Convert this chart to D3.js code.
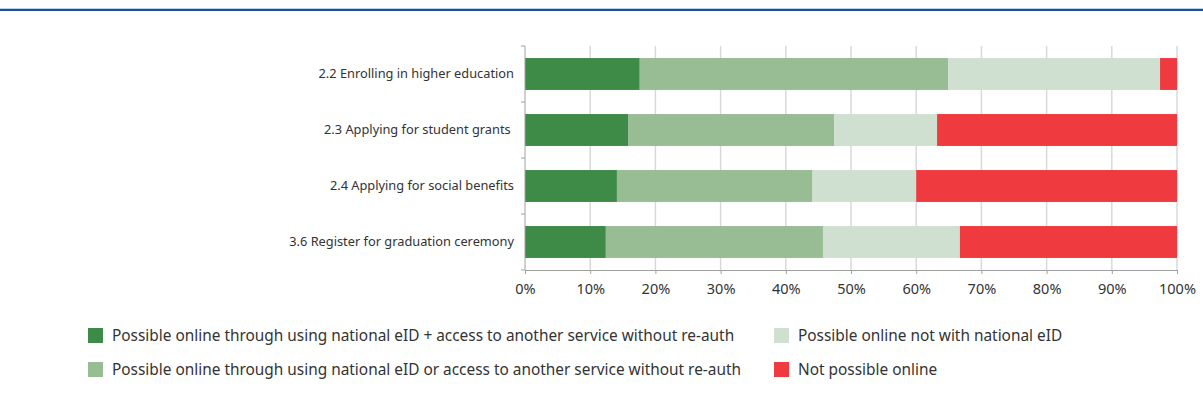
<!DOCTYPE html>
<html><head><meta charset="utf-8">
<script src="https://cdn.jsdelivr.net/npm/d3@7"></script>
<style>
html,body{margin:0;padding:0;background:#fff;}
svg{display:block;font-family:"Noto Sans",sans-serif;}
</style></head>
<body>
<svg id="chart" width="1203" height="407"></svg>
<script>
const categories = ["2.2 Enrolling in higher education","2.3 Applying for student grants ","2.4 Applying for social benefits","3.6 Register for graduation ceremony"];
const seriesNames = ["Possible online through using national eID + access to another service without re-auth","Possible online through using national eID or access to another service without re-auth","Possible online not with national eID","Not possible online"];
const eidPlus   = [17.6, 15.8, 14.1, 12.4];
const eidOr     = [47.3, 31.6, 30.0, 33.3];
const notEid    = [32.5, 15.8, 15.9, 21.0];
const notOnline = [2.6, 36.8, 40.0, 33.3];
const tickValues = [0,10,20,30,40,50,60,70,80,90,100];
const colors = ["#3d8b47","#98bd95","#d0e0d0","#ef3b3f"];

const svg = d3.select("#chart");
svg.append("line").attr("x1",0).attr("x2",1203).attr("y1",8.5).attr("y2",8.5).attr("stroke","#bcd0ea").attr("stroke-width",1);
svg.append("line").attr("x1",0).attr("x2",1203).attr("y1",10).attr("y2",10).attr("stroke","#1d4f9a").attr("stroke-width",2);

const x = d3.scaleLinear().domain([0,100]).range([525,1177]);
const y = d3.scaleBand().domain(categories).range([46,270]).paddingInner(0.43).paddingOuter(0.215);

svg.append("g").selectAll("line").data(tickValues.slice(1)).join("line")
  .attr("x1",d=>x(d)).attr("x2",d=>x(d)).attr("y1",46).attr("y2",270)
  .attr("stroke","#d9d9d9").attr("stroke-width",1.5);

const stackData = categories.map((c,i)=>({cat:c, s0:eidPlus[i], s1:eidOr[i], s2:notEid[i], s3:notOnline[i]}));
const stack = d3.stack().keys(["s0","s1","s2","s3"])(stackData);
svg.append("g").selectAll("g").data(stack).join("g").attr("fill",(d,i)=>colors[i])
  .selectAll("rect").data(d=>d).join("rect")
  .attr("x",d=>x(d[0])).attr("width",d=>x(Math.min(d[1],100))-x(d[0]))
  .attr("y",d=>y(d.data.cat)).attr("height",y.bandwidth());

const xAxis = svg.append("g").attr("transform","translate(0,270)")
  .call(d3.axisBottom(x).tickValues(tickValues).tickFormat(d=>d+"%").tickSize(4).tickPadding(10));
xAxis.select(".domain").attr("stroke","#a0a0a0");
xAxis.selectAll(".tick line").attr("stroke","#a0a0a0");
xAxis.selectAll("text").attr("font-size",14.5).attr("fill","#333").attr("font-family","'Noto Sans',sans-serif");

svg.append("line").attr("x1",525).attr("x2",525).attr("y1",46).attr("y2",270).attr("stroke","#a0a0a0");
svg.append("g").selectAll("line").data(categories.concat(["end"])).join("line")
  .attr("x1",521).attr("x2",525)
  .attr("y1",(d,i)=> i<categories.length ? y(d)-y.step()*y.paddingInner()/2 : 270)
  .attr("y2",(d,i)=> i<categories.length ? y(d)-y.step()*y.paddingInner()/2 : 270)
  .attr("stroke","#a0a0a0");
svg.append("g").selectAll("text").data(categories).join("text")
  .attr("x",514).attr("y",d=>y(d)+y.bandwidth()/2).attr("dy","0.35em")
  .attr("text-anchor","end").attr("font-size",12.8).attr("fill","#333")
  .attr("xml:space","preserve").style("white-space","pre")
  .text(d=>d);

const legendPos = [[88,328],[88,362],[774,328],[774,362]];
const lg = svg.append("g").selectAll("g").data(seriesNames).join("g")
  .attr("transform",(d,i)=>`translate(${legendPos[i][0]},${legendPos[i][1]})`);
lg.append("rect").attr("width",15).attr("height",15).attr("fill",(d,i)=>colors[i]);
lg.append("text").attr("x",24).attr("y",7.5).attr("dy","0.35em").attr("font-size",15.4).attr("fill","#333").text(d=>d);
</script>
</body></html>
